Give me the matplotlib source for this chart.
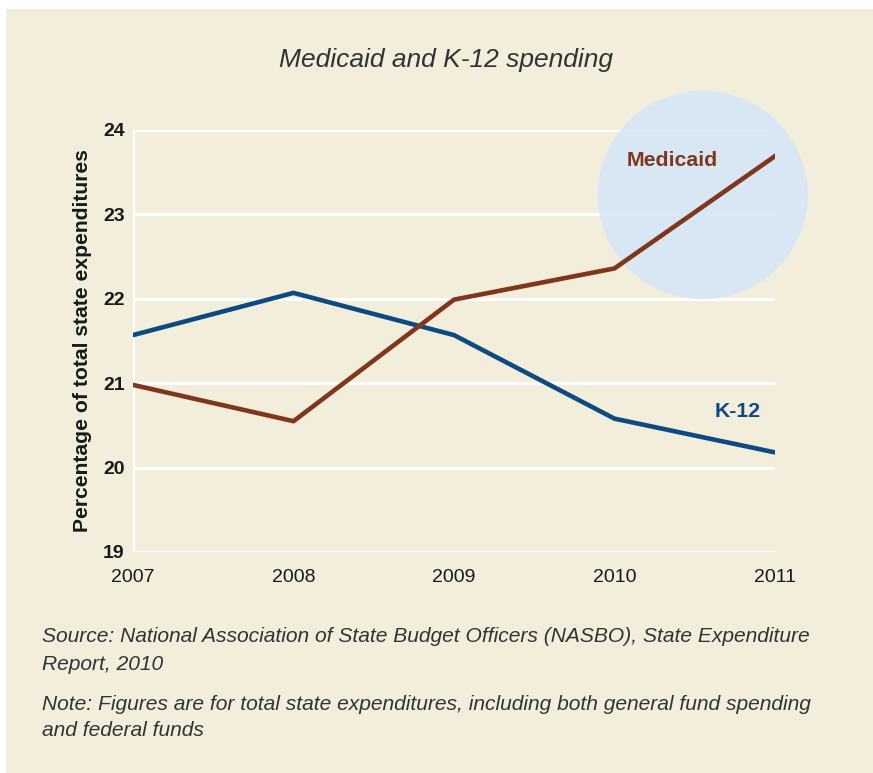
import numpy as np
import matplotlib.pyplot as plt
from matplotlib.patches import Ellipse, Rectangle

plt.rcParams['font.family'] = ['Liberation Sans', 'DejaVu Sans']

# donnees
years = [2007, 2008, 2009, 2010, 2011]
medicaid = [20.98, 20.55, 21.99, 22.36, 23.69]
k12 = [21.57, 22.07, 21.57, 20.58, 20.18]
yticks = [19, 20, 21, 22, 23, 24]

beige = '#f3eedc'
brown = '#80361b'
blue = '#0e4a82'

W, H = 873, 773
fig = plt.figure(figsize=(W / 100, H / 100), dpi=100, facecolor=beige)
# bord blanc en haut et a gauche
fig.patches.append(Rectangle((0, 0), 6 / W, 1, transform=fig.transFigure,
                             facecolor='white', edgecolor='none', zorder=-5))
fig.patches.append(Rectangle((0, 1 - 9 / H), 1, 9 / H, transform=fig.transFigure,
                             facecolor='white', edgecolor='none', zorder=-5))

ax = fig.add_axes([133 / W, 1 - 552 / H, 642 / W, 422 / H])
ax.set_facecolor('none')
ax.set_xlim(2007, 2011)
ax.set_ylim(19, 24)
for s in ax.spines.values():
    s.set_visible(False)

for v in yticks:
    ax.axhline(v, color='white', lw=2.2, zorder=1)
ax.axvline(2007, color='white', lw=2.2, zorder=1)

# cercle bleu clair autour de Medicaid 2011
circ = Ellipse((2010.55, 23.23), 1.31, 2.47, facecolor='#d7e7f7', edgecolor='none',
               alpha=0.92, zorder=2, clip_on=False)
ax.add_patch(circ)

ax.plot(years, k12, color=blue, lw=3.3, zorder=3, solid_joinstyle='miter')
ax.plot(years, medicaid, color=brown, lw=3.3, zorder=4, solid_joinstyle='miter')

ax.text(2010.36, 23.64, 'Medicaid', color=brown, fontsize=15.3, fontweight='bold',
        ha='center', va='center', zorder=5)
ax.text(2010.77, 20.67, 'K-12', color=blue, fontsize=15.3, fontweight='bold',
        ha='center', va='center', zorder=5)

ax.set_xticks(years)
ax.set_xticklabels([str(y) for y in years], fontsize=14, color='#1a1a1a')
ax.set_yticks(yticks)
ax.set_yticklabels([str(v) for v in yticks], fontsize=14, fontweight='bold', color='#1a1a1a')
ax.tick_params(axis='both', length=0)
ax.tick_params(axis='x', pad=12)
ax.tick_params(axis='y', pad=6)

ax.set_ylabel('Percentage of total state expenditures', fontsize=15.2, fontweight='bold',
              color='#1a1a1a', labelpad=8)

fig.text(446 / W, 1 - 60 / H, 'Medicaid and K-12 spending', fontsize=19, style='italic',
         color='#333333', ha='center', va='center')

notes = [
    (636, 'Source: National Association of State Budget Officers (NASBO), State Expenditure'),
    (664, 'Report, 2010'),
    (704, 'Note: Figures are for total state expenditures, including both general fund spending'),
    (731, 'and federal funds'),
]
for ypix, txt in notes:
    fig.text(42 / W, 1 - ypix / H, txt, fontsize=15.1, style='italic', color='#333333',
             ha='left', va='center')

fig.savefig('out.png', dpi=100, facecolor=beige)
